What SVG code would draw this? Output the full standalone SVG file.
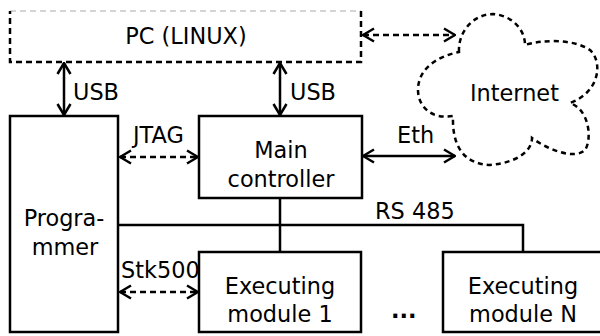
<svg xmlns="http://www.w3.org/2000/svg" width="600" height="336" viewBox="0 0 600 336">
<defs>
<style>
text{font-family:"DejaVu Sans",sans-serif;font-size:22.4px;fill:#000}
.box{fill:#fff;stroke:#000;stroke-width:2.5}
.ln{fill:none;stroke:#000;stroke-width:2.5}
.dash{stroke-dasharray:6,4}
.mid{text-anchor:middle}
</style>
<marker id="ah" viewBox="0 0 13 16" refX="12" refY="8" markerWidth="13" markerHeight="16" markerUnits="userSpaceOnUse" orient="auto-start-reverse">
<path d="M1,1.5 L12,8 L1,14.5" fill="none" stroke="#000" stroke-width="2.5"/>
</marker>
</defs>
<rect width="600" height="336" fill="#fff"/>
<g id="pc">
<path d="M10,11 L361,11" fill="none" stroke="#aaa" stroke-width="1" stroke-dasharray="6,4"/>
<path d="M361,11 L361,62 L10,62 L10,11" class="ln dash"/>
<text x="186" y="44" class="mid">PC (LINUX)</text>
</g>
<g id="internet">
<path d="M459,52 C458,30 475,14 493,14 C510,15 525,28 525,45 C540,40 572,38 590,50 C603,62 600,92 570,103 C590,110 592,140 585,150 C575,160 548,150 532,138 C532,152 515,163 490,165 C465,164 452,148 453,116 C430,120 418,105 418,90 C418,70 435,57 459,52 Z" class="ln" stroke-dasharray="5,4"/>
<text x="470" y="101">Internet</text>
</g>
<g id="programmer">
<rect x="10" y="116" width="108" height="216" class="box"/>
<text x="64" y="226" class="mid">Progra-</text>
<text x="65" y="255" class="mid">mmer</text>
</g>
<g id="main">
<rect x="199" y="116" width="163" height="82" class="box"/>
<text x="281" y="158" class="mid">Main</text>
<text x="281" y="187" class="mid">controller</text>
</g>
<g id="exec1">
<rect x="199" y="252" width="162" height="80" class="box"/>
<text x="280" y="294" class="mid">Executing</text>
<text x="280" y="322" class="mid">module 1</text>
</g>
<g id="execN">
<rect x="443" y="252" width="160" height="80" class="box"/>
<text x="523" y="294" class="mid">Executing</text>
<text x="523" y="322" class="mid">module N</text>
</g>
<g id="dots">
<text x="391" y="318" font-weight="bold">...</text>
</g>
<g id="connectors">
<line x1="64" y1="63" x2="64" y2="115" class="ln" marker-start="url(#ah)" marker-end="url(#ah)"/>
<text x="73" y="100">USB</text>
<line x1="280" y1="63" x2="280" y2="115" class="ln" marker-start="url(#ah)" marker-end="url(#ah)"/>
<text x="290" y="100">USB</text>
<line x1="363" y1="35" x2="455" y2="35" class="ln dash" marker-start="url(#ah)" marker-end="url(#ah)"/>
<line x1="120" y1="157" x2="198" y2="157" class="ln dash" marker-start="url(#ah)" marker-end="url(#ah)"/>
<text x="133" y="143">JTAG</text>
<line x1="363" y1="156" x2="455" y2="156" class="ln" marker-start="url(#ah)" marker-end="url(#ah)"/>
<text x="397" y="143">Eth</text>
<line x1="120" y1="292" x2="198" y2="292" class="ln dash" marker-start="url(#ah)" marker-end="url(#ah)"/>
<text x="121" y="278" font-size="21">Stk500</text>
<path d="M118,225 L523,225 L523,252" class="ln"/>
<line x1="280" y1="198" x2="280" y2="252" class="ln"/>
<text x="375" y="219">RS 485</text>
</g>
</svg>
